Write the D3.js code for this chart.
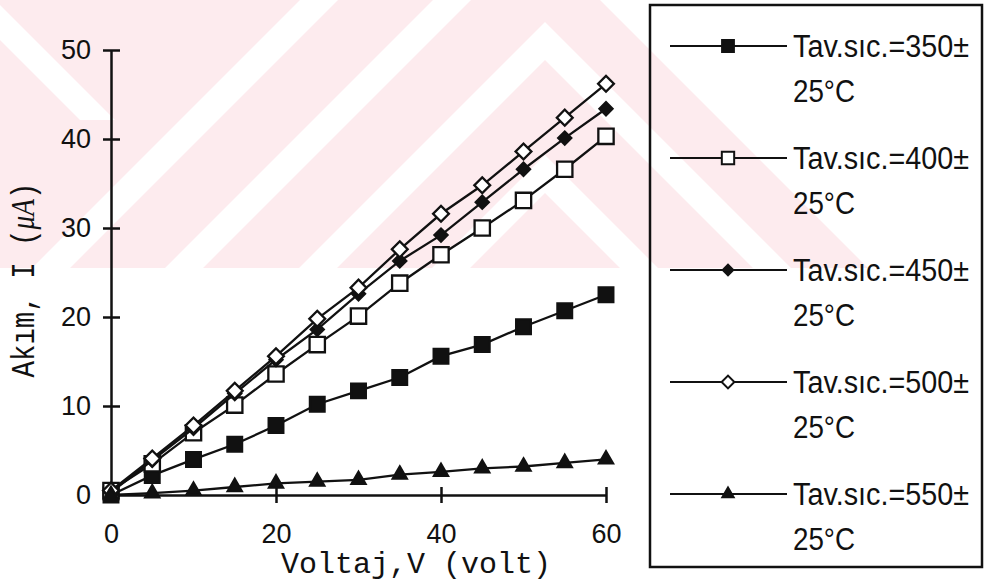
<!DOCTYPE html>
<html>
<head>
<meta charset="utf-8">
<script src="https://cdn.jsdelivr.net/npm/d3@7"></script>
<style>
body { margin: 0; background: #fff; }
</style>
</head>
<body>
<div id="chart"></div>
<script>
// data
var volt = [0, 5, 10, 15, 20, 25, 30, 35, 40, 45, 50, 55, 60];
var akim_350 = [0, 2.2, 4.0, 5.7, 7.8, 10.2, 11.7, 13.2, 15.6, 16.9, 18.9, 20.7, 22.5];
var akim_400 = [0.5, 3.5, 7.0, 10.1, 13.6, 16.9, 20.1, 23.8, 27.0, 30.0, 33.1, 36.6, 40.3];
var akim_450 = [0.3, 3.9, 7.5, 11.4, 15.2, 18.6, 22.6, 26.3, 29.2, 32.9, 36.6, 40.1, 43.4];
var akim_500 = [0.5, 4.1, 7.8, 11.7, 15.6, 19.8, 23.3, 27.6, 31.6, 34.8, 38.6, 42.4, 46.2];
var akim_550 = [0, 0.2, 0.5, 0.9, 1.3, 1.5, 1.7, 2.3, 2.6, 3.0, 3.2, 3.6, 4.0];
var series_labels = ["Tav.sıc.=350±", "Tav.sıc.=400±", "Tav.sıc.=450±", "Tav.sıc.=500±", "Tav.sıc.=550±"];
var series_sub = "25°C";
var x_ticks = [0, 20, 40, 60];
var y_ticks = [0, 10, 20, 30, 40, 50];

// Width and height
var chart_width  = 990;
var chart_height = 587;

var svg = d3.select("#chart")
    .append("svg")
    .attr("width", chart_width)
    .attr("height", chart_height);

// faint pink watermark in the background
var pink = "#fdebee";
var defs = svg.append("defs");
defs.append("clipPath").attr("id", "wm-clip")
    .append("polygon")
    .attr("points", "0,0 600,0 868,268 0,268");
var wm = svg.append("g").attr("clip-path", "url(#wm-clip)");
wm.append("rect").attr("x", 0).attr("y", 0).attr("width", 990).attr("height", 268).attr("fill", pink);
var apex = 545, bw = 38;
[300, 433, 567, 700].forEach(function(a){
  var pts = [
    [a - 600, 600], [apex, a - apex], [2 * apex - a + 600, 600],
    [2 * apex - a - bw + 600, 600], [apex, a + bw - apex], [a + bw - 600, 600]
  ];
  wm.append("polygon").attr("points", pts.join(" ")).attr("fill", "#fff");
});
wm.append("polygon").attr("points", "0,5 115,120 80,120 0,40").attr("fill", "#fff");

// scales
var x = d3.scaleLinear().domain([0, 60]).range([111, 606]);
var y = d3.scaleLinear().domain([0, 50]).range([495, 50]);

// axes, ticks cross the axis line
var xAxis = svg.append("g")
    .attr("transform", "translate(0,495)")
    .call(d3.axisBottom(x).tickValues(x_ticks).tickSize(8).tickSizeOuter(0).tickPadding(21));
xAxis.selectAll(".tick line").attr("y1", -8);

var yAxis = svg.append("g")
    .attr("transform", "translate(111,0)")
    .call(d3.axisLeft(y).tickValues(y_ticks).tickSize(8).tickSizeOuter(0).tickPadding(12));
yAxis.selectAll(".tick line").attr("x1", 9);

svg.selectAll(".domain, .tick line")
    .attr("stroke", "#111")
    .attr("stroke-width", 2.5);
svg.selectAll(".tick text")
    .attr("font-family", "Liberation Sans, Arial, sans-serif")
    .attr("font-size", 27)
    .attr("fill", "#111");

// axis titles
svg.append("text")
    .attr("x", 416).attr("y", 573)
    .attr("text-anchor", "middle")
    .attr("font-family", "Liberation Mono, Courier New, monospace")
    .attr("font-size", 30)
    .attr("fill", "#111")
    .text("Voltaj,V (volt)");

var ytitle = svg.append("text")
    .attr("transform", "translate(34,280) rotate(-90)")
    .attr("text-anchor", "middle")
    .attr("font-family", "Liberation Mono, Courier New, monospace")
    .attr("font-size", 33)
    .attr("fill", "#111")
    .attr("textLength", 195)
    .attr("lengthAdjust", "spacingAndGlyphs");
ytitle.append("tspan").text("Akım, I  (");
ytitle.append("tspan").attr("font-style", "italic").attr("font-family", "Liberation Serif, serif").text("μA");
ytitle.append("tspan").text(")");

// series
var series = [
  {values: akim_350, shape: d3.symbolSquare, size: 215, fill: "#111", rot: 0},
  {values: akim_400, shape: d3.symbolSquare, size: 235, fill: "#fff", rot: 0},
  {values: akim_450, shape: d3.symbolSquare, size: 85, fill: "#111", rot: 45},
  {values: akim_500, shape: d3.symbolSquare, size: 125, fill: "#fff", rot: 45},
  {values: akim_550, shape: d3.symbolTriangle, size: 85, fill: "#111", rot: 0}
];

var line = d3.line()
    .x(function(d){ return x(d[0]); })
    .y(function(d){ return y(d[1]); });

series.forEach(function(s){
  var pts = volt.map(function(v, i){ return [v, s.values[i]]; });
  svg.append("path")
    .attr("d", line(pts))
    .attr("fill", "none")
    .attr("stroke", "#111")
    .attr("stroke-width", 2.3);
  svg.selectAll(null)
    .data(pts)
    .enter()
    .append("path")
    .attr("d", d3.symbol().type(s.shape).size(s.size))
    .attr("transform", function(d){
      return "translate(" + x(d[0]) + "," + y(d[1]) + ") rotate(" + s.rot + ")";
    })
    .attr("fill", s.fill)
    .attr("stroke", "#111")
    .attr("stroke-width", 2.3);
});

// legend
svg.append("rect")
    .attr("x", 650).attr("y", 5)
    .attr("width", 332).attr("height", 562)
    .attr("fill", "none")
    .attr("stroke", "#111")
    .attr("stroke-width", 2.5);

series.forEach(function(s, i){
  var ry = 46 + i * 112;
  svg.append("line")
    .attr("x1", 670).attr("x2", 787)
    .attr("y1", ry).attr("y2", ry)
    .attr("stroke", "#111").attr("stroke-width", 2);
  svg.append("path")
    .attr("d", d3.symbol().type(s.shape).size(s.size * 0.65))
    .attr("transform", "translate(728," + ry + ") rotate(" + s.rot + ")")
    .attr("fill", s.fill)
    .attr("stroke", "#111")
    .attr("stroke-width", 2);
  svg.append("text")
    .attr("x", 793).attr("y", ry).attr("dy", "0.36em")
    .attr("font-family", "Liberation Sans, Arial, sans-serif")
    .attr("font-size", 31)
    .attr("fill", "#111")
    .attr("textLength", 176)
    .attr("lengthAdjust", "spacingAndGlyphs")
    .text(series_labels[i]);
  svg.append("text")
    .attr("x", 793).attr("y", ry + 45).attr("dy", "0.36em")
    .attr("font-family", "Liberation Sans, Arial, sans-serif")
    .attr("font-size", 31)
    .attr("fill", "#111")
    .attr("textLength", 62)
    .attr("lengthAdjust", "spacingAndGlyphs")
    .text(series_sub);
});
</script>
</body>
</html>
